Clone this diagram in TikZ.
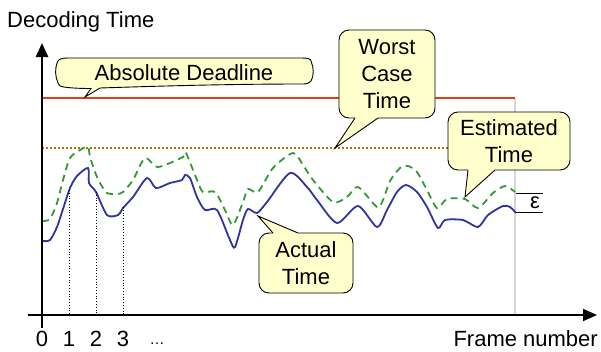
\documentclass[tikz,border=0pt]{standalone}
\usepackage{fontspec}
\setmainfont{Liberation Sans}
\usetikzlibrary{arrows.meta}
\definecolor{actualc}{RGB}{51,51,160}
\definecolor{estc}{RGB}{51,153,51}
\definecolor{deadc}{RGB}{228,62,22}
\definecolor{worstc}{RGB}{184,112,0}
\definecolor{callfill}{RGB}{255,255,204}
\definecolor{gridc}{RGB}{214,214,214}
\tikzset{
  callbox/.style={rounded corners=10, fill=callfill, draw=black, line width=0.9, align=center, inner sep=0pt},
  callline/.style={draw=black, line width=0.9, line join=miter},
  axisline/.style={draw=black, -{Triangle[length=14pt,width=12pt]}},
  guide/.style={draw=black, line width=0.8, dotted},
  lbl/.style={inner sep=0pt},
}
\begin{document}
\begin{tikzpicture}[x=1pt,y=-1pt,font=\fontsize{22}{27}\selectfont]
\useasboundingbox (0,0) rectangle (601,351);

% light grey end line
\draw[gridc, line width=1.3] (515,98) -- (515,315);
% deadline and worst case lines
\draw[deadc, line width=1.6] (42,98) -- (515,98);
\draw[worstc, line width=2, dash pattern=on 2pt off 2pt] (42,148) -- (515,148);

% estimated time (dashed green)
\draw[estc, line width=1.8, dash pattern=on 7pt off 5pt] plot[smooth, tension=0.45] coordinates {
(42,221) (50,219) (57,203) (63,180) (70,158) (80,150) (88,147) (90,157) (95,172) (100,183) (107,193) (117,194) (123,192) (133,180) (145,158) (158,167) (183,157) (186,153) (197,180) (203,192) (215,192) (225,210) (233,225) (243,202) (248,189) (258,192) (273,168) (293,153) (303,165) (313,180) (333,202) (347,197) (358,187) (377,207) (383,200) (390,181) (400,168) (408,166) (417,172) (427,190) (437,208) (447,199) (465,199) (478,208) (493,193) (505,186) (515,192)};

% actual time (solid blue)
\draw[actualc, line width=1.8] plot[smooth, tension=0.45] coordinates {
(42,241) (50,240) (57,227) (63,209) (70,188) (77,176) (88,168) (89,183) (96,192) (107,215) (118,215) (123,208) (133,197) (147,178) (156,188) (170,183) (182,180) (185,175) (190,178) (197,197) (205,210) (217,210) (230,240) (235,247) (243,220) (248,209) (257,213) (267,202) (290,173) (307,187) (317,200) (337,223) (358,206) (377,227) (387,210) (397,192) (406,185) (417,192) (427,207) (438,228) (445,220) (463,220) (478,227) (488,215) (503,206) (510,207) (516,213)};

% frame guides
\draw[guide] (69,190) -- (69,315);
\draw[guide] (96,192) -- (96,315);
\draw[guide] (123,207) -- (123,315);

% epsilon marker
\draw[black, line width=0.9] (516,193) -- (543,193);
\draw[black, line width=0.9] (516,212) -- (543,212);
\node[lbl] (eps) at (535,203) {ε};

% axes
\coordinate (yfoot) at (42,328);
\coordinate (ytip) at (42,43);
\coordinate (xfoot) at (28,315);
\coordinate (xtip) at (597,315);
\draw[axisline, line width=2.6] (yfoot) -- (ytip);
\draw[axisline, line width=1.8] (xfoot) -- (xtip);

% axis labels
\node[lbl, anchor=base west] (ylabel) at (7,27) {Decoding Time};
\node[lbl, anchor=base east] (xlabel) at (598,346.5) {Frame number};
\node[lbl, anchor=base] (t0) at (42,346.5) {0};
\node[lbl, anchor=base] (t1) at (69,346.5) {1};
\node[lbl, anchor=base] (t2) at (96,346.5) {2};
\node[lbl, anchor=base] (t3) at (123,346.5) {3};
\node[lbl, anchor=base, font=\fontsize{15}{17}\selectfont] (tdots) at (157,344) {…};

% Absolute deadline callout (wave shape)
\coordinate (adtip) at (85,97);
\draw[callline, fill=callfill] (57,63) .. controls (58,59) and (62,58) .. (68,58) -- (302,58)
  .. controls (308,58) and (311,59) .. (311,61)
  .. controls (314,68) and (314,76) .. (311,81)
  .. controls (310,83) and (307,84) .. (303,84)
  .. controls (230,84) and (160,86) .. (100,88) -- (adtip) -- (91,88.5)
  .. controls (80,88.5) and (70,88) .. (64,87)
  .. controls (60,86.5) and (58,85) .. (58,83)
  .. controls (55,76) and (55,69) .. (57,63) -- cycle;
\node[lbl] (ad) at (184,73) {Absolute Deadline};

% Worst case callout
\node[callbox, minimum width=96pt, minimum height=88pt] (wc) at (387,74) {Worst\\Case\\Time};
\coordinate (wctip) at (335,148);
\fill[callfill] (355,116) -- (355,118) -- (wctip) -- (378,118) -- (378,116) -- cycle;
\draw[callline] (355,118) -- (wctip) -- (378,118);

% Estimated callout
\node[callbox, minimum width=122pt, minimum height=58pt] (et) at (509,141) {Estimated\\Time};
\coordinate (ettip) at (465,197);
\fill[callfill] (468,168) -- (468,170) -- (ettip) -- (495,170) -- (495,168) -- cycle;
\draw[callline] (468,170) -- (ettip) -- (495,170);

% Actual callout
\node[callbox, minimum width=94pt, minimum height=60pt] (at) at (306,263) {Actual\\Time};
\coordinate (attip) at (258,216);
\fill[callfill] (273,235) -- (273,233) -- (attip) -- (298,233) -- (298,235) -- cycle;
\draw[callline] (273,233) -- (attip) -- (298,233);
\end{tikzpicture}
\end{document}
